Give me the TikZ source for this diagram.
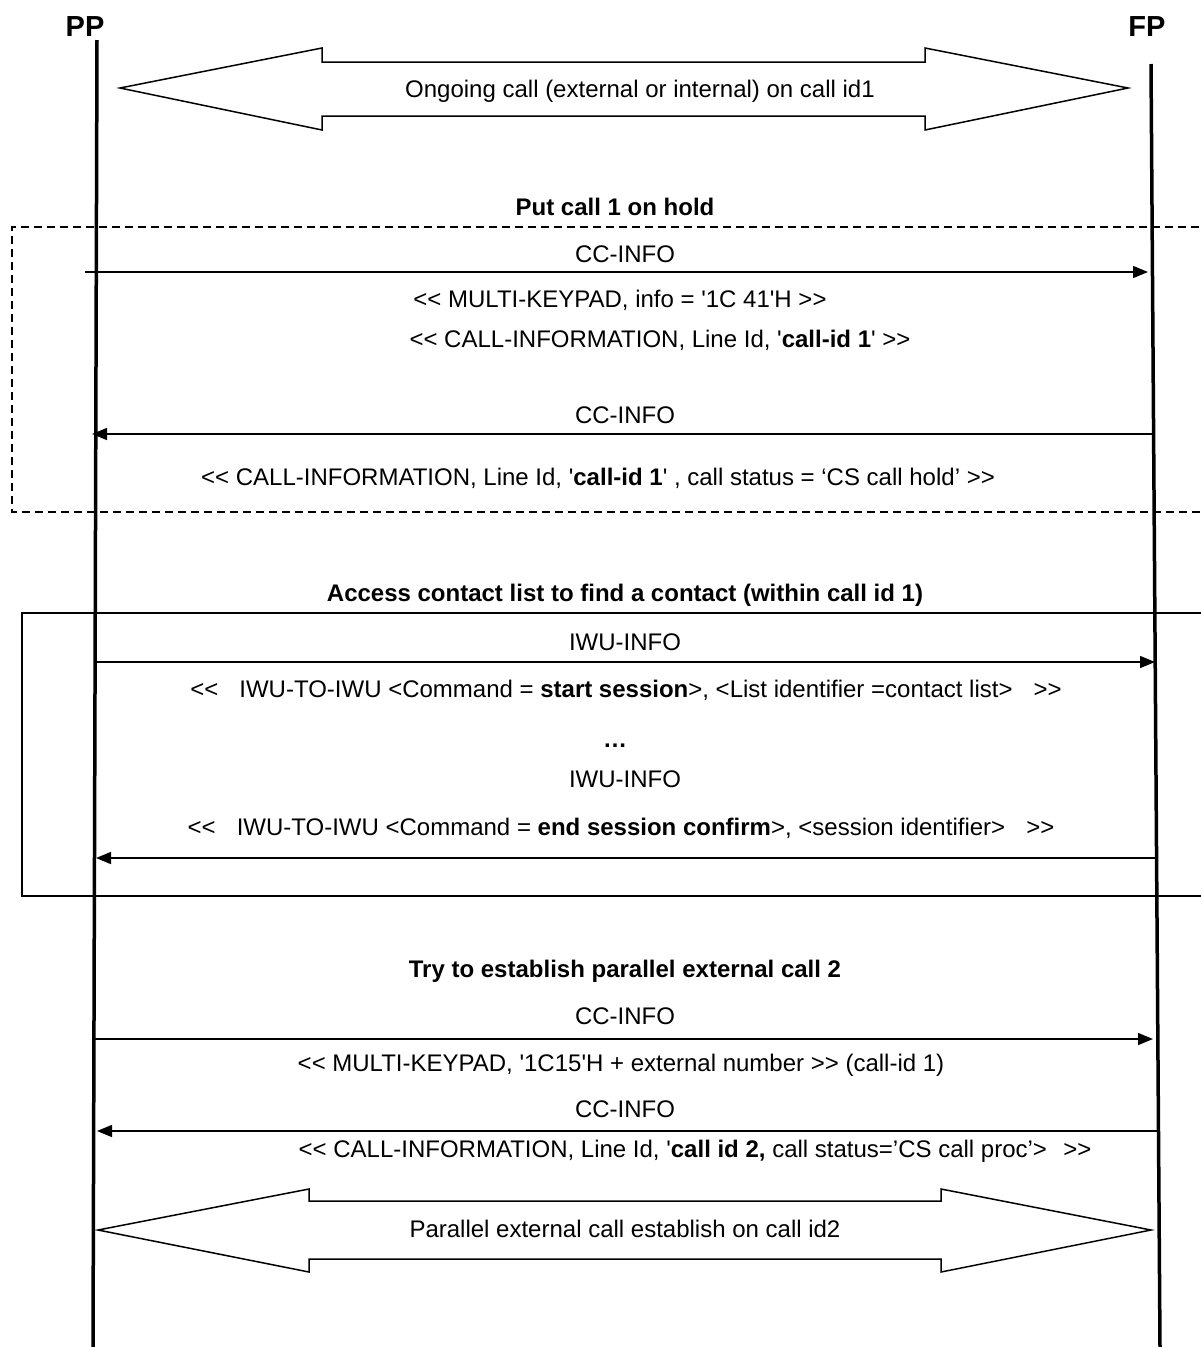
\documentclass[tikz,border=0pt]{standalone}
\usepackage{fontspec}
\setmainfont{Liberation Sans}[Ligatures=TeXOff]
\usetikzlibrary{arrows.meta}
\begin{document}
\begin{tikzpicture}[x=1pt,y=-1pt,
  lbl/.style={anchor=base, inner sep=0pt, font=\fontsize{24}{28}\selectfont},
  ttl/.style={anchor=base, inner sep=0pt, font=\fontsize{24}{28}\selectfont\bfseries},
  ent/.style={anchor=base, inner sep=0pt, font=\fontsize{29}{34}\selectfont\bfseries},
  life/.style={line width=3.5pt},
  msg/.style={line width=1.5pt, -{Triangle[length=15pt,width=12pt]}},
  blk/.style={line width=1.5pt, line join=miter},
  grp/.style={line width=1.5pt},
]
\useasboundingbox (0,0) rectangle (1200,1347);

% group frames
\draw[grp, dash pattern=on 8pt off 5pt] (1212,227) -- (12,227) -- (12,512) -- (1212,512);
\draw[grp] (1212,613) -- (22,613) -- (22,896) -- (1212,896);

% lifelines
\node[ent] (pp) at (85,36) {PP};
\node[ent] (fp) at (1147,36) {FP};
\coordinate (pp0) at (97,40);
\coordinate (pp1) at (93,1347);
\coordinate (fp0) at (1151,64);
\coordinate (fp1) at (1160,1347);
\draw[life] (pp0) -- (pp1);
\draw[life] (fp0) -- (fp1);

% top block arrow
\draw[blk] (120,88) -- (322,48) -- (322,62) -- (925,62) -- (925,48) -- (1128,88)
  -- (925,130) -- (925,116) -- (322,116) -- (322,130) -- cycle;
\node[lbl] (ongoing) at (640,97) {Ongoing call (external or internal) on call id1};

% put call on hold
\node[ttl] (hold) at (615,215) {Put call 1 on hold};
\node[lbl] (m1l) at (625,262) {CC-INFO};
\coordinate (m1s) at (85,272);
\coordinate (m1e) at (1148,272);
\draw[msg] (m1s) -- (m1e);
\node[lbl] (t1) at (620,307) {<< MULTI-KEYPAD, info = '1C 41'H >>};
\node[lbl] (t2) at (660,347) {<< CALL-INFORMATION, Line Id, '\textbf{call-id 1}' >>};
\node[lbl] (m2l) at (625,423) {CC-INFO};
\coordinate (m2s) at (1153,434);
\coordinate (m2e) at (92,434);
\draw[msg] (m2s) -- (m2e);
\node[lbl] (t3) at (598,485) {<< CALL-INFORMATION, Line Id, '\textbf{call-id 1}' , call status = ‘CS call hold’ >>};

% access contact list
\node[ttl] (access) at (625,601) {Access contact list to find a contact (within call id 1)};
\node[lbl] (m3l) at (625,650) {IWU-INFO};
\coordinate (m3s) at (95,662);
\coordinate (m3e) at (1155,662);
\draw[msg] (m3s) -- (m3e);
\node[lbl] (t4) at (626,697) {<<\hspace{0.6em} IWU-TO-IWU <Command = \textbf{start session}>, <List identifier =contact list>\hspace{0.6em} >>};
\node[ttl] (dots) at (615,747) {…};
\node[lbl] (m4l) at (625,787) {IWU-INFO};
\node[lbl] (t5) at (621,835) {<<\hspace{0.6em} IWU-TO-IWU <Command = \textbf{end session confirm}>, <session identifier>\hspace{0.6em} >>};
\coordinate (m4s) at (1156,858);
\coordinate (m4e) at (96,858);
\draw[msg] (m4s) -- (m4e);

% parallel call
\node[ttl] (try) at (625,977) {Try to establish parallel external call 2};
\node[lbl] (m5l) at (625,1024) {CC-INFO};
\coordinate (m5s) at (95,1039);
\coordinate (m5e) at (1153,1039);
\draw[msg] (m5s) -- (m5e);
\node[lbl] (t6) at (621,1071) {<< MULTI-KEYPAD, '1C15'H + external number >> (call-id 1)};
\node[lbl] (m6l) at (625,1117) {CC-INFO};
\coordinate (m6s) at (1157,1131);
\coordinate (m6e) at (97,1131);
\draw[msg] (m6s) -- (m6e);
\node[lbl] (t7) at (695,1157) {<< CALL-INFORMATION, Line Id, '\textbf{call id 2,} call status=’CS call proc’>\hspace{0.4em} >>};

% bottom block arrow
\draw[blk] (98,1230) -- (309,1189) -- (309,1201) -- (941,1201) -- (941,1189) -- (1151,1230)
  -- (941,1272) -- (941,1259) -- (309,1259) -- (309,1272) -- cycle;
\node[lbl] (par) at (625,1237) {Parallel external call establish on call id2};
\end{tikzpicture}
\end{document}
